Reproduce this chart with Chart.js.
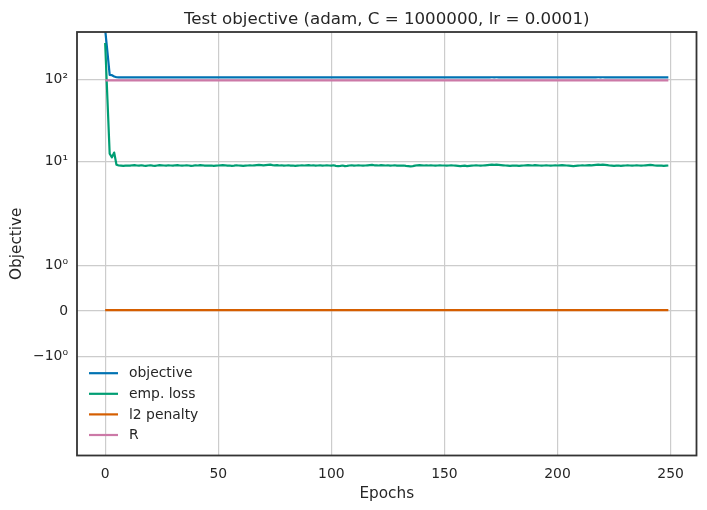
<!DOCTYPE html>
<html><head><meta charset="utf-8">
<script src="https://cdn.jsdelivr.net/npm/chart.js@4.4.1/dist/chart.umd.min.js"></script>
<style>html,body{margin:0;padding:0;background:#fff;}#wrap{width:707px;height:510px;position:relative;}</style>
</head><body><div id="wrap"><canvas id="c"></canvas></div>
<script>
const epochs = Array.from({length: 250}, (_, i) => i);

const objective = [
400, 215, 113, 112, 108, 105.7, 105.5, 105.45, 105.4, 105.45,
105.5, 105.45, 105.55, 105.6, 105.5, 105.45, 105.55, 105.45, 105.4, 105.5,
105.55, 105.45, 105.4, 105.5, 105.6, 105.55, 105.5, 105.45, 105.55, 105.5,
105.45, 105.55, 105.6, 105.5, 105.45, 105.5, 105.55, 105.5, 105.4, 105.45,
105.55, 105.5, 105.6, 105.55, 105.45, 105.5, 105.45, 105.5, 105.4, 105.45,
105.5, 105.55, 105.6, 105.55, 105.45, 105.5, 105.4, 105.45, 105.55, 105.5,
105.45, 105.4, 105.45, 105.5, 105.55, 105.5, 105.55, 105.6, 105.65, 105.6,
105.55, 105.6, 105.65, 105.7, 105.6, 105.55, 105.6, 105.5, 105.55, 105.45,
105.5, 105.55, 105.45, 105.5, 105.4, 105.45, 105.5, 105.55, 105.5, 105.55,
105.6, 105.5, 105.55, 105.45, 105.5, 105.55, 105.45, 105.5, 105.55, 105.5,
105.45, 105.55, 105.4, 105.35, 105.4, 105.5, 105.35, 105.4, 105.5, 105.55,
105.45, 105.5, 105.55, 105.5, 105.45, 105.5, 105.55, 105.6, 105.65, 105.55,
105.55, 105.5, 105.6, 105.55, 105.5, 105.55, 105.45, 105.5, 105.55, 105.45,
105.5, 105.45, 105.5, 105.4, 105.35, 105.3, 105.35, 105.45, 105.55, 105.6,
105.55, 105.5, 105.55, 105.5, 105.55, 105.5, 105.45, 105.5, 105.55, 105.5,
105.5, 105.45, 105.5, 105.55, 105.5, 105.45, 105.4, 105.35, 105.4, 105.45,
105.35, 105.4, 105.45, 105.5, 105.55, 105.5, 105.45, 105.5, 105.55, 105.6,
105.65, 105.7, 105.65, 105.7, 105.65, 105.6, 105.55, 105.5, 105.45, 105.4,
105.45, 105.5, 105.45, 105.4, 105.45, 105.5, 105.55, 105.6, 105.55, 105.5,
105.6, 105.55, 105.5, 105.45, 105.5, 105.55, 105.5, 105.45, 105.5, 105.55,
105.5, 105.55, 105.6, 105.55, 105.5, 105.45, 105.4, 105.35, 105.4, 105.45,
105.5, 105.55, 105.5, 105.55, 105.6, 105.55, 105.6, 105.65, 105.7, 105.65,
105.7, 105.65, 105.6, 105.5, 105.45, 105.4, 105.45, 105.5, 105.4, 105.45,
105.5, 105.55, 105.5, 105.45, 105.5, 105.55, 105.5, 105.45, 105.5, 105.55,
105.6, 105.65, 105.6, 105.5, 105.45, 105.5, 105.45, 105.4, 105.45, 105.5
];

const empLoss = [
275, 58, 12.5, 11.3, 12.9, 9.2, 9.0, 8.95, 8.9, 8.95,
9.0, 8.95, 9.05, 9.1, 9.0, 8.95, 9.05, 8.95, 8.9, 9.0,
9.05, 8.95, 8.9, 9.0, 9.1, 9.05, 9.0, 8.95, 9.05, 9.0,
8.95, 9.05, 9.1, 9.0, 8.95, 9.0, 9.05, 9.0, 8.9, 8.95,
9.05, 9.0, 9.1, 9.05, 8.95, 9.0, 8.95, 9.0, 8.9, 8.95,
9.0, 9.05, 9.1, 9.05, 8.95, 9.0, 8.9, 8.95, 9.05, 9.0,
8.95, 8.9, 8.95, 9.0, 9.05, 9.0, 9.05, 9.1, 9.15, 9.1,
9.05, 9.1, 9.15, 9.2, 9.1, 9.05, 9.1, 9.0, 9.05, 8.95,
9.0, 9.05, 8.95, 9.0, 8.9, 8.95, 9.0, 9.05, 9.0, 9.05,
9.1, 9.0, 9.05, 8.95, 9.0, 9.05, 8.95, 9.0, 9.05, 9.0,
8.95, 9.05, 8.9, 8.85, 8.9, 9.0, 8.85, 8.9, 9.0, 9.05,
8.95, 9.0, 9.05, 9.0, 8.95, 9.0, 9.05, 9.1, 9.15, 9.05,
9.05, 9.0, 9.1, 9.05, 9.0, 9.05, 8.95, 9.0, 9.05, 8.95,
9.0, 8.95, 9.0, 8.9, 8.85, 8.8, 8.85, 8.95, 9.05, 9.1,
9.05, 9.0, 9.05, 9.0, 9.05, 9.0, 8.95, 9.0, 9.05, 9.0,
9.0, 8.95, 9.0, 9.05, 9.0, 8.95, 8.9, 8.85, 8.9, 8.95,
8.85, 8.9, 8.95, 9.0, 9.05, 9.0, 8.95, 9.0, 9.05, 9.1,
9.15, 9.2, 9.15, 9.2, 9.15, 9.1, 9.05, 9.0, 8.95, 8.9,
8.95, 9.0, 8.95, 8.9, 8.95, 9.0, 9.05, 9.1, 9.05, 9.0,
9.1, 9.05, 9.0, 8.95, 9.0, 9.05, 9.0, 8.95, 9.0, 9.05,
9.0, 9.05, 9.1, 9.05, 9.0, 8.95, 8.9, 8.85, 8.9, 8.95,
9.0, 9.05, 9.0, 9.05, 9.1, 9.05, 9.1, 9.15, 9.2, 9.15,
9.2, 9.15, 9.1, 9.0, 8.95, 8.9, 8.95, 9.0, 8.9, 8.95,
9.0, 9.05, 9.0, 8.95, 9.0, 9.05, 9.0, 8.95, 9.0, 9.05,
9.1, 9.15, 9.1, 9.0, 8.95, 9.0, 8.95, 8.9, 8.95, 9.0
];

const l2Penalty = [
0.02,0.02,0.02,0.02,0.02,0.02,0.02,0.02,0.02,0.02,0.02,0.02,0.02,0.02,0.02,0.02,0.02,0.02,0.02,0.02,0.02,0.02,0.02,0.02,0.02,
0.02,0.02,0.02,0.02,0.02,0.02,0.02,0.02,0.02,0.02,0.02,0.02,0.02,0.02,0.02,0.02,0.02,0.02,0.02,0.02,0.02,0.02,0.02,0.02,0.02,
0.02,0.02,0.02,0.02,0.02,0.02,0.02,0.02,0.02,0.02,0.02,0.02,0.02,0.02,0.02,0.02,0.02,0.02,0.02,0.02,0.02,0.02,0.02,0.02,0.02,
0.02,0.02,0.02,0.02,0.02,0.02,0.02,0.02,0.02,0.02,0.02,0.02,0.02,0.02,0.02,0.02,0.02,0.02,0.02,0.02,0.02,0.02,0.02,0.02,0.02,
0.02,0.02,0.02,0.02,0.02,0.02,0.02,0.02,0.02,0.02,0.02,0.02,0.02,0.02,0.02,0.02,0.02,0.02,0.02,0.02,0.02,0.02,0.02,0.02,0.02,
0.02,0.02,0.02,0.02,0.02,0.02,0.02,0.02,0.02,0.02,0.02,0.02,0.02,0.02,0.02,0.02,0.02,0.02,0.02,0.02,0.02,0.02,0.02,0.02,0.02,
0.02,0.02,0.02,0.02,0.02,0.02,0.02,0.02,0.02,0.02,0.02,0.02,0.02,0.02,0.02,0.02,0.02,0.02,0.02,0.02,0.02,0.02,0.02,0.02,0.02,
0.02,0.02,0.02,0.02,0.02,0.02,0.02,0.02,0.02,0.02,0.02,0.02,0.02,0.02,0.02,0.02,0.02,0.02,0.02,0.02,0.02,0.02,0.02,0.02,0.02,
0.02,0.02,0.02,0.02,0.02,0.02,0.02,0.02,0.02,0.02,0.02,0.02,0.02,0.02,0.02,0.02,0.02,0.02,0.02,0.02,0.02,0.02,0.02,0.02,0.02,
0.02,0.02,0.02,0.02,0.02,0.02,0.02,0.02,0.02,0.02,0.02,0.02,0.02,0.02,0.02,0.02,0.02,0.02,0.02,0.02,0.02,0.02,0.02,0.02,0.02
];

const R = [
97,97,97,97,97,97,97,97,97,97,97,97,97,97,97,97,97,97,97,97,97,97,97,97,97,
97,97,97,97,97,97,97,97,97,97,97,97,97,97,97,97,97,97,97,97,97,97,97,97,97,
97,97,97,97,97,97,97,97,97,97,97,97,97,97,97,97,97,97,97,97,97,97,97,97,97,
97,97,97,97,97,97,97,97,97,97,97,97,97,97,97,97,97,97,97,97,97,97,97,97,97,
97,97,97,97,97,97,97,97,97,97,97,97,97,97,97,97,97,97,97,97,97,97,97,97,97,
97,97,97,97,97,97,97,97,97,97,97,97,97,97,97,97,97,97,97,97,97,97,97,97,97,
97,97,97,97,97,97,97,97,97,97,97,97,97,97,97,97,97,97,97,97,97,97,97,97,97,
97,97,97,97,97,97,97,97,97,97,97,97,97,97,97,97,97,97,97,97,97,97,97,97,97,
97,97,97,97,97,97,97,97,97,97,97,97,97,97,97,97,97,97,97,97,97,97,97,97,97,
97,97,97,97,97,97,97,97,97,97,97,97,97,97,97,97,97,97,97,97,97,97,97,97,97
];

const seriesNames = ['objective', 'emp. loss', 'l2 penalty', 'R'];
const seriesColors = ['#0072B2', '#009E73', '#D55E00', '#CC79A7'];
const xTicks = [0, 50, 100, 150, 200, 250];
const yTicks = [-1, 0, 1, 10, 100];
const yTickLabels = ['\u221210\u2070', '0', '10\u2070', '10\u00B9', '10\u00B2'];
const titleText = 'Test objective (adam, C = 1000000, lr = 0.0001)';

// symmetric log transform (matplotlib style)
const LINTHRESH = 2, LINSCALE = 1, BASE = 10;
const LSADJ = LINSCALE / (1 - 1 / BASE);
function symlog(a) {
  const b = Math.abs(a);
  return b <= LINTHRESH ? a * LSADJ : Math.sign(a) * LINTHRESH * (LSADJ + Math.log10(b / LINTHRESH));
}
function symexp(u) {
  const b = Math.abs(u);
  return b <= LINTHRESH * LSADJ ? u / LSADJ : Math.sign(u) * LINTHRESH * Math.pow(BASE, b / LINTHRESH - LSADJ);
}

class SymlogScale extends Chart.LinearScale {
  static id = 'symlog';
  static defaults = {};
  determineDataLimits() { this.min = this.options.min; this.max = this.options.max; }
  buildTicks() { return yTicks.map(v => ({value: v})); }
  configure() {
    super.configure();
    this._tMin = symlog(this.min);
    this._tRange = symlog(this.max) - this._tMin;
  }
  getPixelForValue(v) { return this.getPixelForDecimal((symlog(v) - this._tMin) / this._tRange); }
  getValueForPixel(p) { return symexp(this.getDecimalForPixel(p) * this._tRange + this._tMin); }
}
Chart.register(SymlogScale);

Chart.defaults.font.family = "'DejaVu Sans', sans-serif";
Chart.defaults.color = '#262626';

const TICK_FS = 13.9, LABEL_FS = 15.28, TITLE_FS = 16.67;

const decorPlugin = {
  id: 'decor',
  afterDraw(chart) {
    const {ctx, chartArea: {left, top, right, bottom}} = chart;
    ctx.save();
    ctx.strokeStyle = '#333333';
    ctx.lineWidth = 1.8;
    ctx.strokeRect(left, top, right - left, bottom - top);
    // legend (matplotlib style, lower left, no frame)
    ctx.font = TICK_FS + "px 'DejaVu Sans'";
    ctx.textBaseline = 'middle';
    ctx.textAlign = 'left';
    const n = chart.data.datasets.length;
    chart.data.datasets.forEach((ds, i) => {
      const y = bottom - 20.5 - (n - 1 - i) * 20.6;
      ctx.strokeStyle = ds.borderColor;
      ctx.lineWidth = 2.2;
      ctx.beginPath();
      ctx.moveTo(left + 12, y);
      ctx.lineTo(left + 41, y);
      ctx.stroke();
      ctx.fillStyle = '#262626';
      ctx.fillText(ds.label, left + 52, y + 0.5);
    });
    ctx.restore();
  }
};

const seriesData = [objective, empLoss, l2Penalty, R];

new Chart(document.getElementById('c'), {
  type: 'line',
  data: {
    labels: epochs,
    datasets: seriesNames.map((name, i) => ({
      label: name,
      data: seriesData[i],
      borderColor: seriesColors[i],
      backgroundColor: seriesColors[i],
      borderWidth: 2.2,
      pointRadius: 0,
      tension: 0,
      fill: false,
      borderJoinStyle: 'round',
      order: seriesNames.length - i
    }))
  },
  options: {
    responsive: true,
    maintainAspectRatio: false,
    animation: false,
    layout: {padding: {left: 0, right: 10.5, top: 0, bottom: 0}},
    plugins: {
      legend: {display: false},
      tooltip: {enabled: false},
      title: {
        display: true, text: titleText, color: '#262626', fullSize: false,
        font: {size: TITLE_FS, weight: 'normal'},
        padding: {top: 9.5, bottom: 2.5}
      }
    },
    scales: {
      x: {
        type: 'linear', min: -12.45, max: 261.45,
        afterBuildTicks: s => { s.ticks = xTicks.map(v => ({value: v})); },
        afterFit: s => { s.height = 54.5; },
        grid: {color: '#cccccc', lineWidth: 1.2, drawTicks: false},
        border: {display: false},
        ticks: {padding: 11, font: {size: TICK_FS}, color: '#262626', maxRotation: 0, autoSkip: false, callback: v => String(v)},
        title: {display: true, text: 'Epochs', color: '#262626', font: {size: LABEL_FS}, padding: {top: 0, bottom: 6.8}}
      },
      y: {
        type: 'symlog', min: -8.76, max: 374,
        afterFit: s => { s.width = 77; },
        grid: {color: '#cccccc', lineWidth: 1.2, drawTicks: false},
        border: {display: false},
        ticks: {padding: 9, font: {size: TICK_FS}, color: '#262626', autoSkip: false,
          callback: v => yTickLabels[yTicks.indexOf(v)]},
        title: {display: true, text: 'Objective', color: '#262626', font: {size: LABEL_FS}, padding: {top: 8.3, bottom: 0}}
      }
    }
  },
  plugins: [decorPlugin]
});
</script>
</body></html>
